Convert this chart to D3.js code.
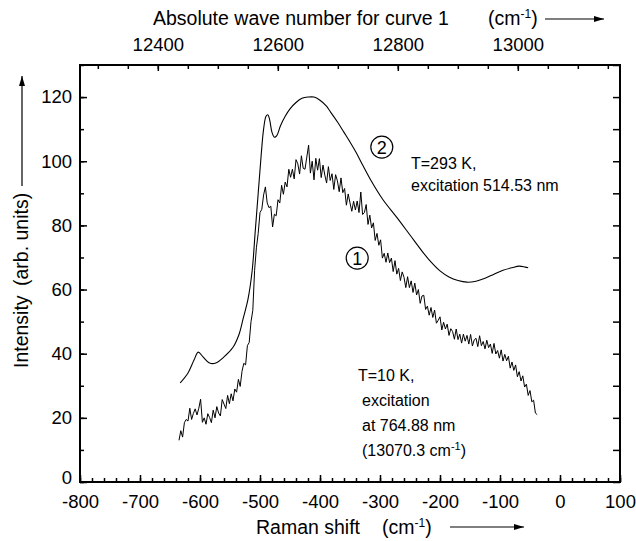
<!DOCTYPE html>
<html>
<head>
<meta charset="utf-8">
<script src="https://cdn.jsdelivr.net/npm/d3@7/dist/d3.min.js"></script>
<style>
  html, body { margin: 0; padding: 0; background: #fff; }
  svg { display: block; }
  text { font-family: "Liberation Sans", Arial, sans-serif; fill: #000; }
</style>
</head>
<body>
<svg id="chart" width="636" height="541"></svg>
<script>
// ---------------- data ----------------
// Bottom axis (Raman shift, cm^-1)
const xTickLabels = [-800, -700, -600, -500, -400, -300, -200, -100, 0, 100];
// Left axis (intensity)
const yTickLabels = [0, 20, 40, 60, 80, 100, 120];
// Top axis (absolute wave number for curve 1)
const topTickLabels = [12400, 12600, 12800, 13000];
const excitationWavenumber = 13070.3;

// Curve 2 (T = 293 K, smooth): Raman shift
const curve2Shift = [-633, -620, -610, -603, -595, -585, -575, -560, -545, -535,
  -528, -520, -513, -508, -503, -498, -494, -490, -487, -484,
  -480, -476, -472, -466, -458, -450, -440, -430, -420, -410,
  -400, -390, -383, -370, -360, -350, -340, -328, -315, -295,
  -272, -250, -230, -217, -200, -185, -170, -155, -140, -125,
  -110, -95, -80, -68, -58, -53];
// Curve 2 intensity
const curve2Value = [30.9, 34, 38, 40.5, 39, 37.2, 37, 39, 42, 46,
  51, 57, 66, 78, 90, 102, 110, 114, 114.5, 113,
  109, 107.5, 108, 111, 114, 116.3, 118.3, 119.6, 120, 120,
  119, 117.3, 115.5, 112, 109, 106, 102.8, 98.5, 94, 88,
  82.5, 77, 72, 69, 65.8, 63.9, 62.8, 62.3, 62.6, 63.5,
  64.8, 66, 66.8, 67.3, 67, 66.8];

// Curve 1 (T = 10 K, noisy): sampled every 3 cm^-1 starting at -635
const curve1Start = -635;
const curve1Step = 3;
const curve1Value = [
  13, 16, 14, 18.5, 19.5, 19, 23, 19.5, 21.4, 22.8,
  20.9, 23, 25.8, 18.6, 20, 18, 21.3, 20.1, 18.5, 22.4,
  20, 23.5, 21.5, 20.6, 25.7, 24.3, 22.9, 27, 24.4, 27.5,
  25.3, 29, 28, 32, 29.8, 34.5, 37, 36.5, 42.5, 43.5,
  50, 53.5, 66, 73, 77.5, 84, 85, 89.5, 92, 87,
  85.5, 86, 79.5, 83.5, 83, 88, 87, 92.5, 89.7, 93.5,
  92, 97.5, 95, 97.5, 94.5, 100.5, 99.2, 96, 101.7, 97.8,
  97.5, 101.3, 105, 96.3, 100, 94.2, 100.9, 97.2, 100.8, 94.9,
  98.8, 95.7, 93.2, 98.3, 94, 96.1, 91.2, 95.8, 93.9, 90.5,
  94.8, 90.2, 91.5, 86.3, 89.8, 87, 84.4, 87.5, 84.8, 87.6,
  84, 90.4, 83.4, 84, 86.5, 80.3, 83.2, 79.2, 80.8, 75.3,
  77.5, 73.8, 75.5, 69.8, 71.3, 68.5, 71.4, 68.4, 69.8, 65.6,
  69, 64.8, 66.6, 62.8, 65.5, 63.8, 60.6, 64, 60.6, 62.7,
  59.1, 62, 58.3, 60, 55.7, 58, 58.2, 53.8, 54.8, 52,
  54.4, 51.3, 53.6, 49.5, 50.4, 51.5, 47.4, 49.8, 47.7, 49.2,
  45.7, 47.8, 46.9, 44.5, 47.7, 44.4, 46.1, 43.3, 46.1, 43.9,
  45.7, 43, 46, 42.4, 44.3, 44.8, 42.2, 45.6, 42.5, 43.8,
  41.5, 44.2, 41.9, 43, 40.1, 43.2, 39.9, 41, 38.6, 41.2,
  37.7, 39.8, 37.8, 39.2, 35.5, 37.4, 34.8, 36.5, 32.8, 34.4,
  31.5, 33.1, 29.6, 30.5, 27, 28.5, 25, 25.5, 21.5, 21
];

// ---------------- layout ----------------
const plot = { left: 80, right: 620, top: 65, bottom: 482 };
const FONT = 18.5;

const svg = d3.select("#chart");

const x = d3.scaleLinear().domain([-800, 100]).range([plot.left, plot.right]);
const y = d3.scaleLinear().domain([0, 130]).range([plot.bottom, plot.top]);
const xTop = d3.scaleLinear()
  .domain([-800 + excitationWavenumber, 100 + excitationWavenumber])
  .range([plot.left, plot.right]);

// minor ticks
const xMinor = d3.range(-800, 101, 20);
const yMinor = d3.range(0, 131, 10);
const topMinor = d3.range(12300, 13170, 50);
const fmt = d => String(d);

function styleAxis(g) {
  g.select(".domain").remove();
  g.selectAll(".tick line").attr("stroke", "#000").attr("stroke-width", 1.5);
  g.selectAll(".tick text").style("font-size", FONT + "px")
    .style("font-family", '"Liberation Sans", Arial, sans-serif').attr("fill", "#000");
}

// bottom axis
svg.append("g").attr("transform", `translate(0,${plot.bottom})`)
  .call(d3.axisBottom(x).tickValues(xMinor).tickSize(-4).tickFormat(""))
  .call(styleAxis);
svg.append("g").attr("transform", `translate(0,${plot.bottom})`)
  .call(d3.axisBottom(x).tickValues(xTickLabels).tickSize(-7).tickPadding(13).tickFormat(fmt))
  .call(styleAxis);

// left axis
svg.append("g").attr("transform", `translate(${plot.left},0)`)
  .call(d3.axisLeft(y).tickValues(yMinor).tickSize(-4).tickFormat(""))
  .call(styleAxis);
const leftAxis = svg.append("g").attr("transform", `translate(${plot.left},0)`)
  .call(d3.axisLeft(y).tickValues(yTickLabels).tickSize(-7).tickPadding(8).tickFormat(fmt))
  .call(styleAxis);
leftAxis.selectAll(".tick text").filter(d => d === 0).attr("dy", "0.1em");

// right axis
svg.append("g").attr("transform", `translate(${plot.right},0)`)
  .call(d3.axisRight(y).tickValues(yMinor).tickSize(-7).tickFormat(""))
  .call(styleAxis);

// top axis
svg.append("g").attr("transform", `translate(0,${plot.top})`)
  .call(d3.axisTop(xTop).tickValues(topMinor).tickSize(-4).tickFormat(""))
  .call(styleAxis);
svg.append("g").attr("transform", `translate(0,${plot.top})`)
  .call(d3.axisTop(xTop).tickValues(topTickLabels).tickSize(-6).tickPadding(14).tickFormat(fmt))
  .call(styleAxis);

// frame
svg.append("rect")
  .attr("x", plot.left).attr("y", plot.top)
  .attr("width", plot.right - plot.left).attr("height", plot.bottom - plot.top)
  .attr("fill", "none").attr("stroke", "#000").attr("stroke-width", 2);

// ---------------- curves ----------------
const curve1 = curve1Value.map((v, i) => [curve1Start + i * curve1Step, v]);
const curve2 = curve2Shift.map((s, i) => [s, curve2Value[i]]);

svg.append("path").datum(curve2)
  .attr("fill", "none").attr("stroke", "#000").attr("stroke-width", 1.1)
  .attr("d", d3.line().x(d => x(d[0])).y(d => y(d[1])).curve(d3.curveCatmullRom.alpha(0.5)));

svg.append("path").datum(curve1)
  .attr("fill", "none").attr("stroke", "#000").attr("stroke-width", 1)
  .attr("d", d3.line().x(d => x(d[0])).y(d => y(d[1])));

// ---------------- annotations ----------------
function circled(cx, cy, label) {
  svg.append("circle").attr("cx", cx).attr("cy", cy).attr("r", 11)
    .attr("fill", "none").attr("stroke", "#000").attr("stroke-width", 1.2);
  svg.append("text").attr("x", cx).attr("y", cy + 6.5)
    .attr("text-anchor", "middle").style("font-size", "18px").text(label);
}
circled(x(-297), y(104.4), "2");
circled(x(-338), y(69.8), "1");

const ann = 16;
svg.append("text").attr("x", 411).attr("y", 169).style("font-size", ann + "px").text("T=293 K,");
svg.append("text").attr("x", 411).attr("y", 191).style("font-size", ann + "px").text("excitation 514.53 nm");

svg.append("text").attr("x", 358).attr("y", 381).style("font-size", ann + "px").text("T=10 K,");
svg.append("text").attr("x", 362).attr("y", 406).style("font-size", ann + "px").text("excitation");
svg.append("text").attr("x", 362).attr("y", 431).style("font-size", ann + "px").text("at 764.88 nm");
const t4 = svg.append("text").attr("x", 362).attr("y", 456).style("font-size", ann + "px");
t4.append("tspan").text("(13070.3 cm");
t4.append("tspan").attr("dy", -6).style("font-size", "11px").text("-1");
t4.append("tspan").attr("dy", 6).text(")");

// ---------------- axis titles ----------------
const marker = svg.append("defs").append("marker")
  .attr("id", "arrow").attr("viewBox", "0 0 10 6").attr("refX", 10).attr("refY", 3)
  .attr("markerWidth", 10).attr("markerHeight", 6).attr("markerUnits", "userSpaceOnUse")
  .attr("orient", "auto");
marker.append("path").attr("d", "M0,0 L10,3 L0,6 Z").attr("fill", "#000");

const TF = 19.5;
// top title
svg.append("text").attr("x", 153).attr("y", 25).style("font-size", TF + "px")
  .text("Absolute wave number for curve 1");
const tt2 = svg.append("text").attr("x", 488).attr("y", 25).style("font-size", TF + "px");
tt2.append("tspan").text("(cm");
tt2.append("tspan").attr("dy", -7).style("font-size", "12px").text("-1");
tt2.append("tspan").attr("dy", 7).text(")");
svg.append("line").attr("x1", 545).attr("y1", 19).attr("x2", 604).attr("y2", 19)
  .attr("stroke", "#000").attr("stroke-width", 1.2).attr("marker-end", "url(#arrow)");

// bottom title
svg.append("text").attr("x", 256).attr("y", 534).style("font-size", TF + "px").text("Raman shift");
const bt = svg.append("text").attr("x", 382).attr("y", 534).style("font-size", TF + "px");
bt.append("tspan").text("(cm");
bt.append("tspan").attr("dy", -7).style("font-size", "12px").text("-1");
bt.append("tspan").attr("dy", 7).text(")");
svg.append("line").attr("x1", 450).attr("y1", 527).attr("x2", 524).attr("y2", 527)
  .attr("stroke", "#000").attr("stroke-width", 1.2).attr("marker-end", "url(#arrow)");

// left title (rotated)
const lx = 28;
svg.append("text").attr("transform", `translate(${lx},368) rotate(-90)`)
  .style("font-size", TF + "px").text("Intensity");
svg.append("text").attr("transform", `translate(${lx},286) rotate(-90)`)
  .style("font-size", TF + "px").text("(arb. units)");
svg.append("line").attr("x1", lx - 6).attr("y1", 186).attr("x2", lx - 6).attr("y2", 76)
  .attr("stroke", "#000").attr("stroke-width", 1.2).attr("marker-end", "url(#arrow)");
</script>
</body>
</html>
